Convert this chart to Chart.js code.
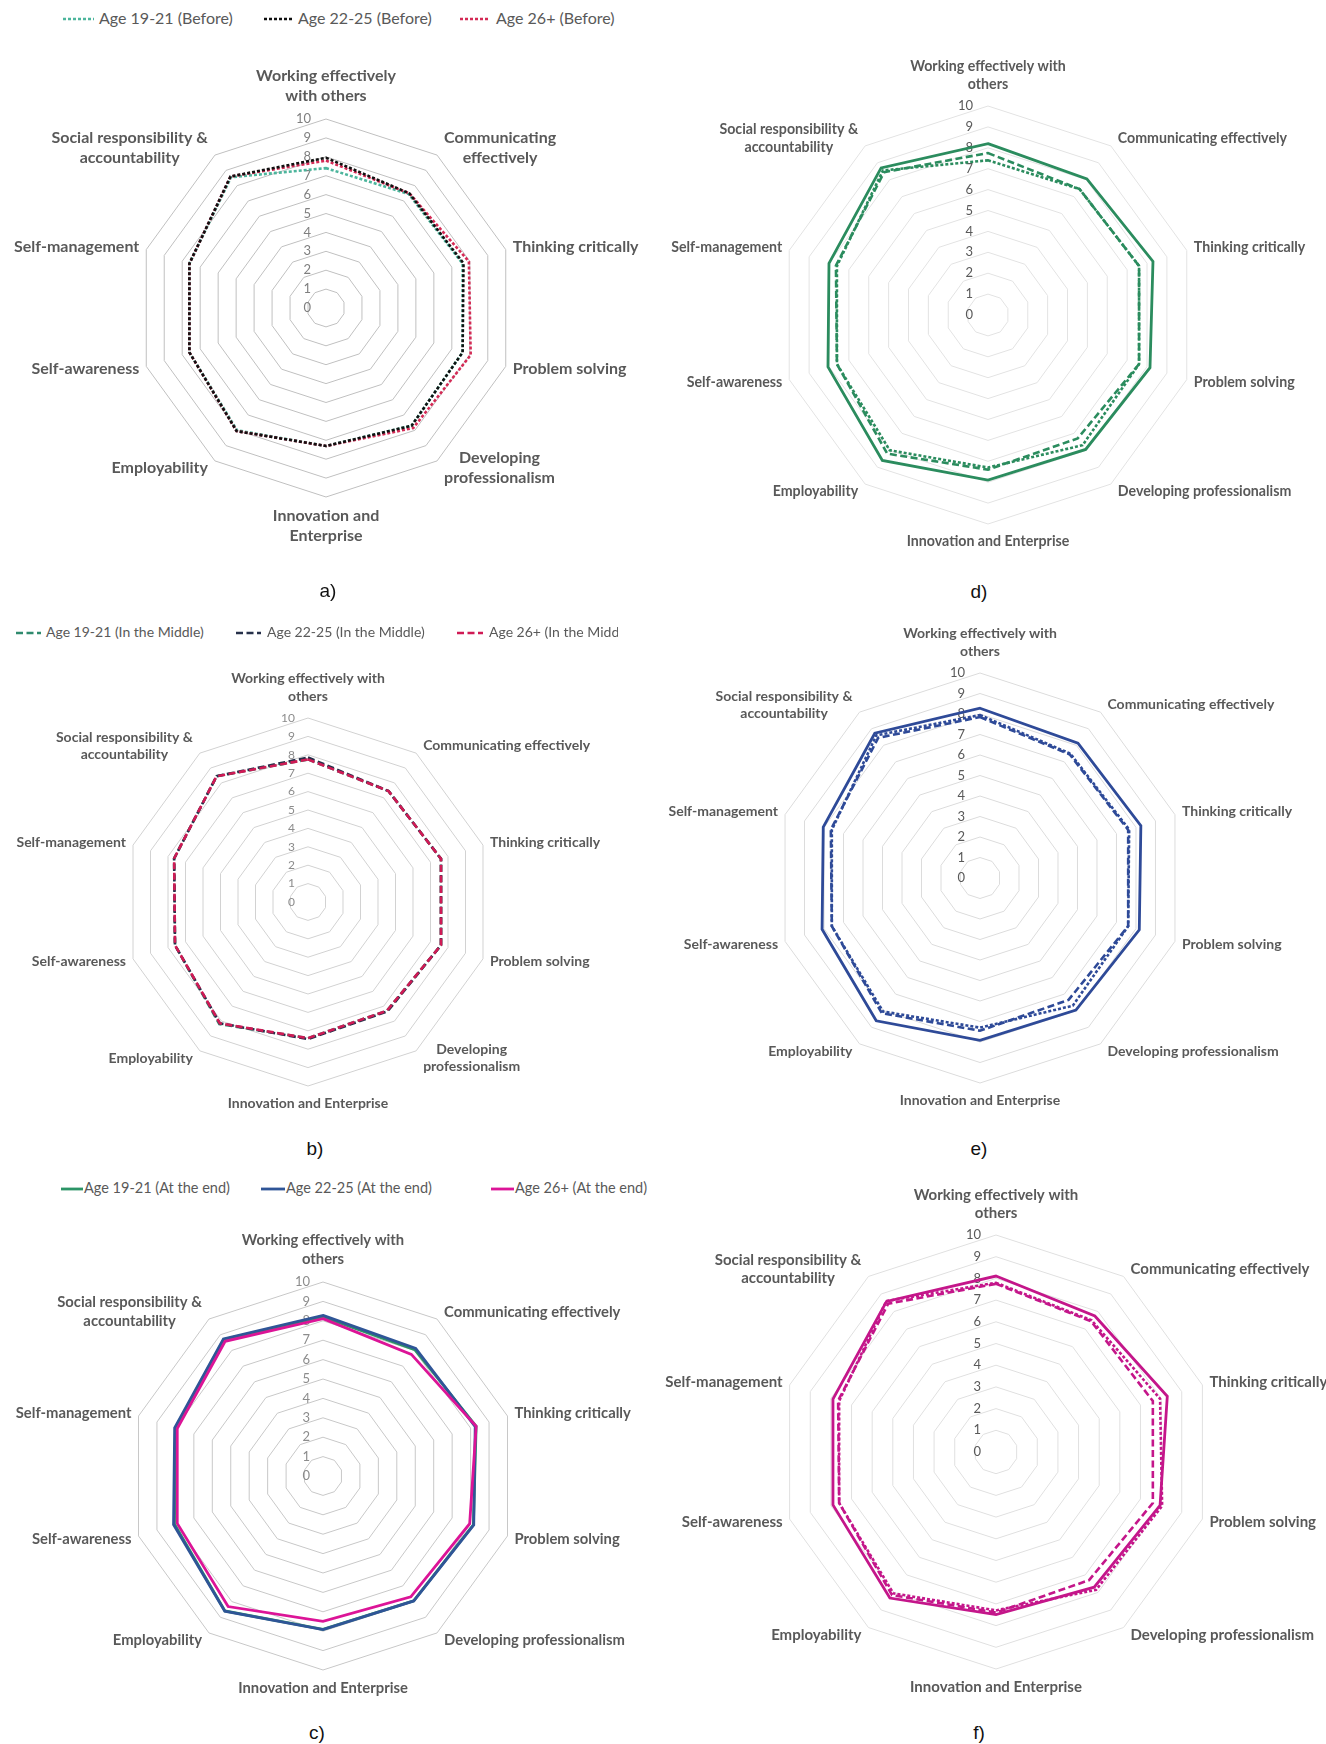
<!DOCTYPE html>
<html><head><meta charset="utf-8">
<script src="https://cdn.jsdelivr.net/npm/chart.js@4.4.1/dist/chart.umd.min.js"></script>
<style>
html,body{margin:0;padding:0;background:#fff;overflow:hidden;width:1326px;height:1744px;}
#page{position:relative;width:1326px;height:1744px;overflow:hidden;background:#fff;}
canvas{position:absolute;}
.legbox{position:absolute;overflow:hidden;white-space:nowrap;}
.legtxt{position:absolute;font-family:Lato,"Open Sans",sans-serif;color:#595959;white-space:nowrap;line-height:1;}
.legsvg{position:absolute;}
.cap{position:absolute;font-family:"Liberation Sans",Arial,sans-serif;font-size:19px;color:#111;transform:translate(-50%,-50%);line-height:1;}
</style></head><body><div id="page"></div>
<script>
// ---------- DATA ----------
const categories = ["Working effectively with others","Communicating effectively","Thinking critically","Problem solving","Developing professionalism","Innovation and Enterprise","Employability","Self-awareness","Self-management","Social responsibility & accountability"];
const tickLabels = ["0","1","2","3","4","5","6","7","8","9","10"];

// Before
const before_19_21 = [7.4, 7.45, 7.6, 7.6, 7.7, 7.3, 8.0, 7.6, 7.6, 8.55];
const before_22_25 = [7.95, 7.5, 7.65, 7.6, 7.7, 7.3, 8.05, 7.6, 7.6, 8.6];
const before_26    = [7.8, 7.5, 7.95, 8.05, 7.85, 7.3, 8.05, 7.6, 7.6, 8.6];
// In the middle
const middle_19_21 = [7.75, 7.45, 7.6, 7.6, 7.3, 7.4, 8.2, 7.6, 7.65, 8.45];
const middle_22_25 = [7.85, 7.45, 7.6, 7.6, 7.35, 7.45, 8.15, 7.6, 7.65, 8.45];
const middle_26    = [7.75, 7.45, 7.6, 7.6, 7.3, 7.4, 8.15, 7.6, 7.65, 8.45];
// At the end
const end_19_21 = [8.2, 8.05, 8.3, 8.15, 7.95, 7.9, 8.6, 8.05, 8.0, 8.7];
const end_22_25 = [8.28, 8.13, 8.25, 8.17, 7.96, 7.92, 8.61, 8.1, 8.04, 8.73];
const end_26    = [8.11, 7.75, 8.3, 7.95, 7.7, 7.49, 8.32, 7.9, 7.9, 8.58];

// wrapped label lines
const labelsA = [["Working effectively","with others"],["Communicating","effectively"],["Thinking critically"],["Problem solving"],["Developing","professionalism"],["Innovation and","Enterprise"],["Employability"],["Self-awareness"],["Self-management"],["Social responsibility &","accountability"]];
const labelsB = [["Working effectively with","others"],["Communicating effectively"],["Thinking critically"],["Problem solving"],["Developing","professionalism"],["Innovation and Enterprise"],["Employability"],["Self-awareness"],["Self-management"],["Social responsibility &","accountability"]];
const labelsC = [["Working effectively with","others"],["Communicating effectively"],["Thinking critically"],["Problem solving"],["Developing professionalism"],["Innovation and Enterprise"],["Employability"],["Self-awareness"],["Self-management"],["Social responsibility &","accountability"]];

// ---------- STYLES ----------
const DOT = {dash:[3,2], width:2.6};
const DASH = {dash:[7,3.5], width:2.6};
const SOLID = {dash:[], width:2.8};

const page = document.getElementById('page');

function labelPlugin(cfg){
  return {
    id:'customLabels',
    beforeDatasetsDraw(chart){
      const s = chart.scales.r, ctx = chart.ctx;
      ctx.save();
      ctx.font = cfg.tickFont;
      ctx.fillStyle = cfg.tickColor;
      ctx.textAlign = 'right';
      ctx.textBaseline = 'middle';
      s.ticks.forEach(t=>{
        const d = s.getDistanceFromCenterForValue(t.value);
        ctx.fillText(tickLabels[Math.round(t.value)], s.xCenter - cfg.tickOff, s.yCenter - d);
      });
      ctx.restore();
    },
    afterDatasetsDraw(chart){
      const s = chart.scales.r, ctx = chart.ctx;
      ctx.save();
      ctx.font = cfg.labelFont;
      ctx.fillStyle = '#595959';
      ctx.textAlign = 'center';
      ctx.textBaseline = 'middle';
      const lh = cfg.lineH;
      cfg.labels.forEach((lines,i)=>{
        const ang = i*36;
        const p = s.getPointPosition(i, s.drawingArea);
        const bw = Math.max(...lines.map(l=>ctx.measureText(l).width));
        const bh = lines.length*lh;
        let cxm, top;
        if (ang===0){ cxm = p.x; top = p.y - 13 - bh; }
        else if (ang===180){ cxm = p.x; top = p.y + 9; }
        else {
          const side = ang<180 ? 1 : -1;
          cxm = side>0 ? p.x + 7 + bw/2 : p.x - 7 - bw/2;
          const cyb = p.y - 9*Math.cos(ang*Math.PI/180);
          top = cyb - bh/2;
        }
        lines.forEach((l,k)=>ctx.fillText(l, cxm, top + lh*k + lh/2));
      });
      ctx.restore();
    }
  };
}

function makeChart(cfg){
  const {cell, cx, cy, R} = cfg;
  const c = document.createElement('canvas');
  c.width = cell.w; c.height = cell.h;
  c.style.left = cell.x+'px'; c.style.top = cell.y+'px';
  c.style.width = cell.w+'px'; c.style.height = cell.h+'px';
  page.appendChild(c);
  const pad = {left: cx-R-cell.x, top: cy-R-cell.y, right: cell.x+cell.w-cx-R, bottom: cell.y+cell.h-cy-R};
  new Chart(c, {
    type:'radar',
    data:{labels:categories, datasets:cfg.datasets.map(d=>({
      label:d.label, data:d.data, borderColor:d.color, backgroundColor:'rgba(0,0,0,0)',
      borderWidth:d.style.width, borderDash:d.style.dash, borderJoinStyle:'miter', fill:false,
      pointRadius:0, pointHoverRadius:0, tension:0, order:d.order}))},
    options:{responsive:false, animation:false, devicePixelRatio:1,
      layout:{padding:pad},
      plugins:{legend:{display:false}, tooltip:{enabled:false}, title:{display:false}},
      scales:{r:{min:0, max:10, ticks:{stepSize:1, display:false},
        grid:{circular:false, color:cfg.gridColor, lineWidth:1},
        angleLines:{display:false}, pointLabels:{display:false}}}},
    plugins:[labelPlugin(cfg)]
  });
}

function legend(box, items, fontPx){
  const b = document.createElement('div');
  b.className='legbox';
  b.style.left=box.x+'px'; b.style.top=box.y+'px'; b.style.width=box.w+'px'; b.style.height=box.h+'px';
  page.appendChild(b);
  items.forEach(it=>{
    const svg = document.createElementNS('http://www.w3.org/2000/svg','svg');
    svg.setAttribute('class','legsvg');
    svg.setAttribute('width', it.lx2-it.lx1); svg.setAttribute('height', 6);
    svg.style.left = (it.lx1-box.x)+'px'; svg.style.top = (box.h/2-3)+'px';
    const ln = document.createElementNS('http://www.w3.org/2000/svg','line');
    ln.setAttribute('x1',0); ln.setAttribute('x2',it.lx2-it.lx1); ln.setAttribute('y1',3); ln.setAttribute('y2',3);
    ln.setAttribute('stroke', it.color); ln.setAttribute('stroke-width', it.style.width);
    if (it.style.dash.length) ln.setAttribute('stroke-dasharray', it.style.dash.join(' '));
    svg.appendChild(ln); b.appendChild(svg);
    const t = document.createElement('div');
    t.className='legtxt'; t.textContent = it.label;
    t.style.fontSize = fontPx+'px';
    t.style.left = (it.tx-box.x)+'px'; t.style.top = (box.h/2 - fontPx*0.55)+'px';
    b.appendChild(t);
  });
}

function caption(txt,x,y){
  const d=document.createElement('div'); d.className='cap'; d.textContent=txt;
  d.style.left=x+'px'; d.style.top=y+'px'; page.appendChild(d);
}

// colours
const C_A = {y:'#4cb59c', m:'#111111', o:'#d42a55'};
const C_B = {y:'#2f8a6e', m:'#26304a', o:'#d01a55'};
const C_C = {y:'#2b9466', m:'#2f5597', o:'#dc1497'};
const GREEN = '#2b8c5e', BLUE = '#2e4a98', MAGENTA = '#c4168a';

// ---------- CHART a ----------
makeChart({cell:{x:0,y:40,w:663,h:540}, cx:326, cy:308, R:189, gridColor:'#c0c0c0',
  labels:labelsA, labelFont:'bold 16px Lato', lineH:20, tickFont:'13px Lato', tickColor:'#7f7f7f', tickOff:15,
  datasets:[
    {label:'Age 19-21 (Before)', data:before_19_21, color:C_A.y, style:DOT, order:3},
    {label:'Age 22-25 (Before)', data:before_22_25, color:C_A.m, style:DOT, order:1},
    {label:'Age 26+ (Before)', data:before_26, color:C_A.o, style:DOT, order:2}]});
legend({x:0,y:6,w:663,h:26},[
  {lx1:63,lx2:94,tx:99,label:'Age 19-21 (Before)',color:C_A.y,style:DOT},
  {lx1:264,lx2:293,tx:298,label:'Age 22-25 (Before)',color:C_A.m,style:DOT},
  {lx1:460,lx2:490,tx:496,label:'Age 26+ (Before)',color:C_A.o,style:DOT}],16);
caption('a)',328,590);

// ---------- CHART b ----------
makeChart({cell:{x:0,y:650,w:663,h:480}, cx:308, cy:902, R:184, gridColor:'#d2d2d2',
  labels:labelsB, labelFont:'bold 14px Lato', lineH:17.5, tickFont:'12px Lato', tickColor:'#8c8c8c', tickOff:13,
  datasets:[
    {label:'Age 19-21 (In the Middle)', data:middle_19_21, color:C_B.y, style:DASH, order:3},
    {label:'Age 22-25 (In the Middle)', data:middle_22_25, color:C_B.m, style:DASH, order:2},
    {label:'Age 26+ (In the Middle)', data:middle_26, color:C_B.o, style:DASH, order:1}]});
legend({x:0,y:620,w:618,h:26},[
  {lx1:16,lx2:41,tx:46,label:'Age 19-21 (In the Middle)',color:C_B.y,style:DASH},
  {lx1:236,lx2:261,tx:267,label:'Age 22-25 (In the Middle)',color:C_B.m,style:DASH},
  {lx1:457,lx2:483,tx:489,label:'Age 26+ (In the Middle)',color:C_B.o,style:DASH}],14);
caption('b)',315,1148);

// ---------- CHART c ----------
makeChart({cell:{x:0,y:1205,w:663,h:510}, cx:323, cy:1476, R:194, gridColor:'#c8c8c8',
  labels:labelsC, labelFont:'bold 14.8px Lato', lineH:19, tickFont:'13px Lato', tickColor:'#8c8c8c', tickOff:13,
  datasets:[
    {label:'Age 19-21 (At the end)', data:end_19_21, color:C_C.y, style:SOLID, order:3},
    {label:'Age 22-25 (At the end)', data:end_22_25, color:C_C.m, style:SOLID, order:2},
    {label:'Age 26+ (At the end)', data:end_26, color:C_C.o, style:SOLID, order:1}]});
legend({x:0,y:1176,w:663,h:26},[
  {lx1:61,lx2:83,tx:84,label:'Age 19-21 (At the end)',color:C_C.y,style:SOLID},
  {lx1:261,lx2:285,tx:286,label:'Age 22-25 (At the end)',color:C_C.m,style:SOLID},
  {lx1:491,lx2:514,tx:515,label:'Age 26+ (At the end)',color:C_C.o,style:SOLID}],14.5);
caption('c)',317,1732);

// ---------- CHART d (Age 19-21) ----------
makeChart({cell:{x:663,y:40,w:663,h:540}, cx:988, cy:315, R:209, gridColor:'#e3e3e3',
  labels:labelsC, labelFont:'bold 14.2px Lato', lineH:17.5, tickFont:'13px Lato', tickColor:'#595959', tickOff:15,
  datasets:[
    {label:'Age 19-21 (Before)', data:before_19_21, color:GREEN, style:DOT, order:3},
    {label:'Age 19-21 (In the Middle)', data:middle_19_21, color:GREEN, style:DASH, order:2},
    {label:'Age 19-21 (At the end)', data:end_19_21, color:GREEN, style:SOLID, order:1}]});
caption('d)',979,591);

// ---------- CHART e (Age 22-25) ----------
makeChart({cell:{x:663,y:610,w:663,h:520}, cx:980, cy:878, R:205, gridColor:'#dcdcdc',
  labels:labelsC, labelFont:'bold 14px Lato', lineH:17.5, tickFont:'13px Lato', tickColor:'#595959', tickOff:15,
  datasets:[
    {label:'Age 22-25 (Before)', data:before_22_25, color:BLUE, style:DOT, order:3},
    {label:'Age 22-25 (In the Middle)', data:middle_22_25, color:BLUE, style:DASH, order:2},
    {label:'Age 22-25 (At the end)', data:end_22_25, color:BLUE, style:SOLID, order:1}]});
caption('e)',979,1148);

// ---------- CHART f (Age 26+) ----------
makeChart({cell:{x:663,y:1170,w:760,h:550}, cx:996, cy:1452, R:217, gridColor:'#e0e0e0',
  labels:labelsC, labelFont:'bold 15px Lato', lineH:18, tickFont:'13px Lato', tickColor:'#595959', tickOff:15,
  datasets:[
    {label:'Age 26+ (Before)', data:before_26, color:MAGENTA, style:DOT, order:3},
    {label:'Age 26+ (In the Middle)', data:middle_26, color:MAGENTA, style:DASH, order:2},
    {label:'Age 26+ (At the end)', data:end_26, color:MAGENTA, style:SOLID, order:1}]});
caption('f)',979,1732);
</script></body></html>
